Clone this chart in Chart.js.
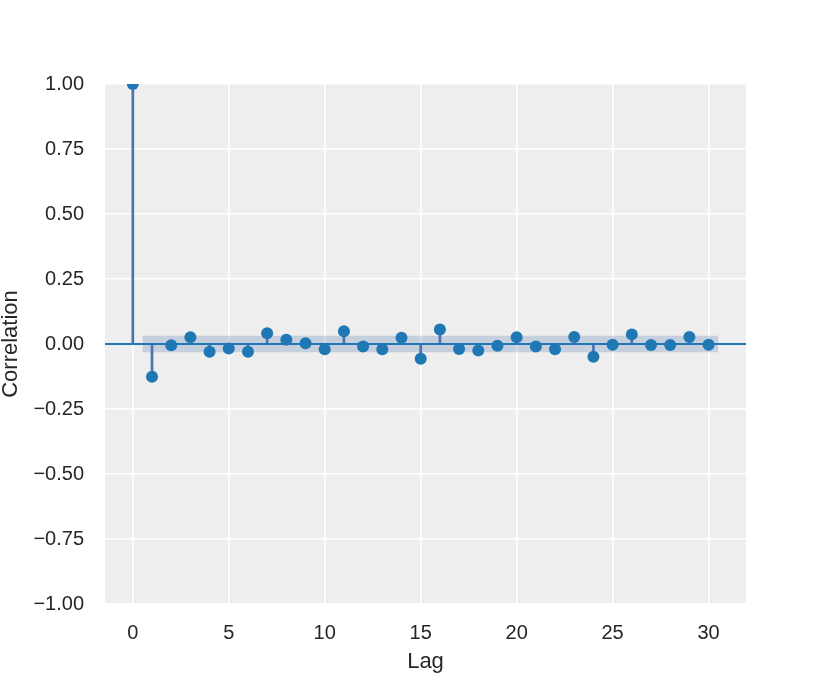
<!DOCTYPE html>
<html>
<head>
<meta charset="utf-8">
<script src="https://cdn.jsdelivr.net/npm/chart.js@4"></script>
<style>
  html, body { margin: 0; padding: 0; background: #fff; }
  #wrap { width: 830px; height: 692px; }
</style>
</head>
<body>
<div id="wrap"><canvas id="acf" width="830" height="692"></canvas></div>
<script>
  const lags = [0, 1, 2, 3, 4, 5, 6, 7, 8, 9, 10, 11, 12, 13, 14, 15, 16, 17, 18, 19, 20, 21, 22, 23, 24, 25, 26, 27, 28, 29, 30];
  const acfValues = [1.0, -0.126, -0.005, 0.026, -0.030, -0.017, -0.030, 0.041, 0.016, 0.003, -0.020, 0.049, -0.010, -0.020, 0.024, -0.057,
    0.056, -0.019, -0.025, -0.007, 0.026, -0.010, -0.020, 0.027, -0.049, -0.003, 0.037, -0.004, -0.004, 0.027, -0.003];
  const bandLags = [0.5, 30.5];
  const bandHalfWidth = [0.032, 0.032];
  const xTicks = [0, 5, 10, 15, 20, 25, 30];
  const yTicks = [-1, -0.75, -0.5, -0.25, 0, 0.25, 0.5, 0.75, 1];
  const xRange = [-1.45, 31.95];

  const points = lags.map((lag, i) => ({ x: lag, y: acfValues[i] }));
  const family = "'Liberation Sans', Arial, sans-serif";
  const tickFont = { family, size: 20 };
  const titleFont = { family, size: 22 };

  const plotBackground = {
    id: "plotBackground",
    beforeDraw(chart) {
      const { ctx, chartArea } = chart;
      ctx.save();
      ctx.fillStyle = "#eeeeee";
      ctx.fillRect(chartArea.left, chartArea.top, chartArea.right - chartArea.left, chartArea.bottom - chartArea.top);
      ctx.restore();
    }
  };

  new Chart(document.getElementById("acf"), {
    data: {
      datasets: [
        {
          type: "line",
          data: bandLags.map((x, i) => ({ x, y: bandHalfWidth[i] })),
          borderWidth: 0,
          pointRadius: 0,
          fill: "+1",
          backgroundColor: "rgba(76,114,176,0.25)",
          order: 5
        },
        {
          type: "line",
          data: bandLags.map((x, i) => ({ x, y: -bandHalfWidth[i] })),
          borderWidth: 0,
          pointRadius: 0,
          fill: false,
          order: 5
        },
        {
          type: "bar",
          data: points,
          backgroundColor: "#4c72b0",
          barThickness: 2,
          order: 3
        },
        {
          type: "line",
          data: xRange.map((x) => ({ x, y: 0 })),
          borderColor: "#1f77b4",
          borderWidth: 2,
          pointRadius: 0,
          order: 2
        },
        {
          type: "scatter",
          data: points,
          backgroundColor: "#1f77b4",
          borderWidth: 0,
          pointRadius: 6,
          clip: 0,
          order: 1
        }
      ]
    },
    options: {
      responsive: false,
      animation: false,
      devicePixelRatio: 1,
      layout: { padding: { left: 0, top: 84, right: 84, bottom: 0 } },
      plugins: { legend: { display: false }, tooltip: { enabled: false } },
      scales: {
        x: {
          type: "linear",
          min: xRange[0],
          max: xRange[1],
          offset: false,
          afterBuildTicks: (scale) => { scale.ticks = xTicks.map((v) => ({ value: v })); },
          afterFit: (scale) => { scale.height = 88; },
          grid: { color: "#ffffff", lineWidth: 1.5, drawTicks: false, offset: false },
          border: { display: false },
          ticks: { color: "#262626", font: tickFont, padding: 17, maxRotation: 0 },
          title: { display: true, text: "Lag", color: "#262626", font: titleFont, padding: { top: 0, bottom: 17 } }
        },
        y: {
          min: -1,
          max: 1,
          afterBuildTicks: (scale) => { scale.ticks = yTicks.map((v) => ({ value: v })); },
          afterFit: (scale) => { scale.width = 105; },
          grid: { color: "#ffffff", lineWidth: 1.5, drawTicks: false },
          border: { display: false },
          ticks: {
            color: "#262626",
            font: tickFont,
            padding: 21,
            callback: (v) => v.toFixed(2).replace("-", "\u2212")
          },
          title: {
            display: true,
            text: "Correlation",
            color: "#262626",
            font: { family, size: 22, lineHeight: 1 },
            padding: { top: 0, bottom: 0 }
          }
        }
      }
    },
    plugins: [plotBackground]
  });
</script>
</body>
</html>
